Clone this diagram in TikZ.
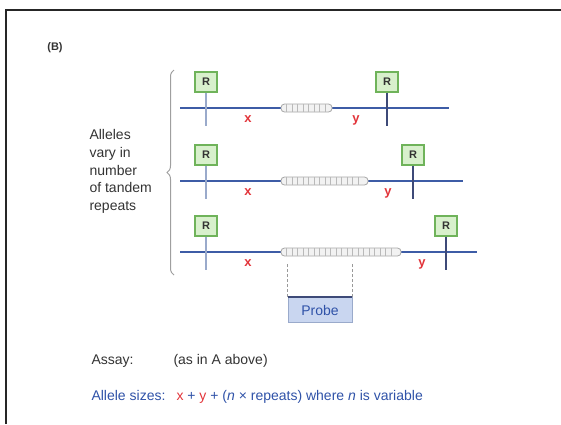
\documentclass[tikz,border=0pt]{standalone}
\usepackage{fontspec}
\setmainfont{Liberation Sans}
\usetikzlibrary{positioning, calc, decorations.pathreplacing}

\definecolor{dnablue}{HTML}{3D5CA6}
\definecolor{sitegreen}{HTML}{6FB35A}
\definecolor{sitefill}{HTML}{D8F0CC}
\definecolor{markred}{HTML}{E2343A}
\definecolor{textblue}{HTML}{2F52A8}
\definecolor{probefill}{HTML}{C9D6F0}
\definecolor{cutpale}{HTML}{9AAACB}
\definecolor{cutdark}{HTML}{3E4A78}

\begin{document}
\begin{tikzpicture}[
    x=1pt, y=-1pt,
    font=\fontsize{14}{17.7}\selectfont,
    text=black!80,
    site/.style={
        draw=sitegreen, fill=sitefill, line width=1.2pt,
        minimum width=22pt, minimum height=20pt, inner sep=0pt,
        font=\fontsize{11}{11}\selectfont\bfseries
    },
    dna_line/.style={dnablue, line width=1.6pt},
    cut_pale/.style={cutpale, line width=1.6pt},
    cut_dark/.style={cutdark, line width=1.2pt},
    tandem/.style={
        draw=gray!70, fill=gray!10, line width=0.8pt,
        rounded corners=3.5pt
    },
    letter/.style={text=markred, font=\fontsize{13}{13}\selectfont\bfseries},
    probe_box/.style={
        draw=cutpale, fill=probefill, line width=0.8pt,
        minimum width=64pt, minimum height=25pt, inner sep=0pt,
        text=textblue
    },
    probe_link/.style={gray!80, line width=0.9pt, dashed, dash pattern=on 3pt off 2pt}
]
\useasboundingbox (0,0) rectangle (561,424);

%% ── frame ──────────────────────────────
\draw[line width=2.2pt, black!85] (6,424) -- (6,10) -- (561,10);

\node[font=\fontsize{11}{11}\selectfont\bfseries] (panel) at (55,48) {(B)};

%% ── alleles ────────────────────────────
% n / line y / end of repeats / right site x / end of line / y label x
\foreach \n/\yy/\bend/\rx/\lend/\ylab in
    {1/108/332/387/449/356, 2/181/368/413/463/388, 3/252/401/446/477/422}{
    \draw[dna_line] (180,\yy) -- (\lend,\yy);
    % tandem repeats
    \draw[tandem] (281,\yy-4) rectangle (\bend,\yy+4);
    \pgfmathsetmacro{\last}{\bend-5}
    \foreach \x in {286.5,292,...,\last}{
        \draw[gray!55, line width=0.6pt] (\x,\yy-4) -- (\x,\yy+4);
    }
    % restriction sites
    \node[site] (sl\n) at (206,\yy-26) {R};
    \node[site] (sr\n) at (\rx,\yy-26) {R};
    \draw[cut_pale] (sl\n.south) -- (sl\n.south |- 0,\yy+18);
    \draw[cut_dark] (sr\n.south) -- (sr\n.south |- 0,\yy+18);
    \node[letter] (x\n) at (248,\yy+11) {x};
    \node[letter] (y\n) at (\ylab,\yy+12) {y};
}

% brace and its label
\draw[gray!75, line width=1pt, decorate,
      decoration={brace, amplitude=7pt}] (174,275) -- (174,70);
\node[anchor=north west, align=left] (alleles) at (86,126)
    {Alleles\\vary in\\number\\of tandem\\repeats};

%% ── probe ──────────────────────────────
\node[probe_box] (probe) at (320,310) {Probe};
\draw[cutdark, line width=1.6pt] (probe.north west) -- (probe.north east);
\draw[probe_link] (probe.north west) -- ++(0,-33);
\draw[probe_link] (probe.north east) -- ++(0,-33);

%% ── assay text ─────────────────────────
\node[anchor=base west] (assay) at (88,364) {Assay:};
\node[anchor=base west] (assay_ref) at (170,364) {(as in A above)};
\node[anchor=base west, text=textblue] (sizes) at (88,400) {Allele sizes:};
\node[anchor=base west, text=textblue] (formula) at (173,400)
    {\textcolor{markred}{x} + \textcolor{markred}{y} + (\textit{n} × repeats) where \textit{n} is variable};

\end{tikzpicture}
\end{document}
